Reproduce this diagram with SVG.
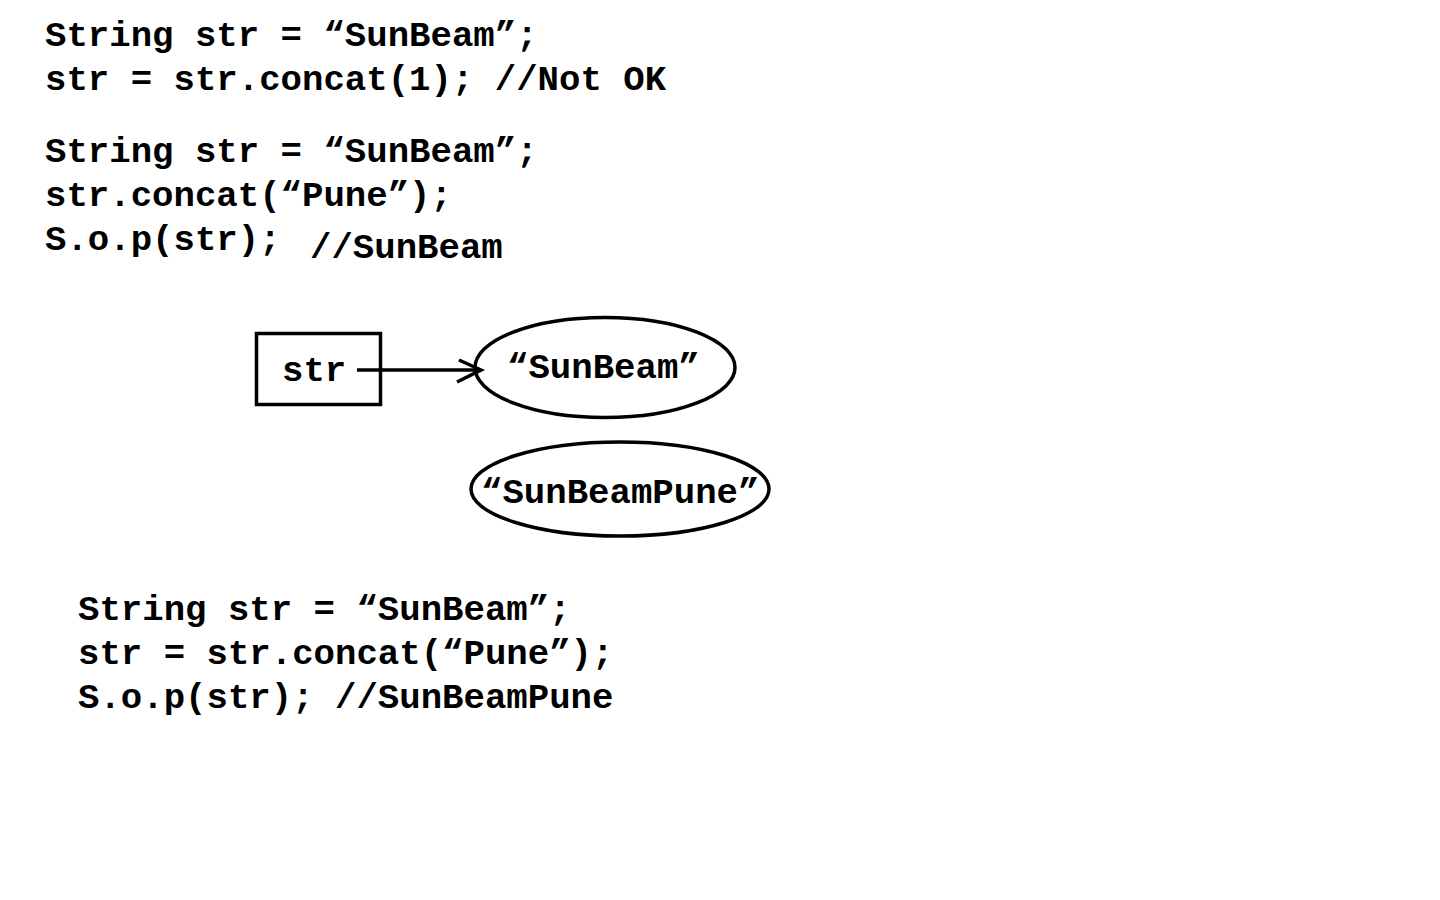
<svg xmlns="http://www.w3.org/2000/svg" width="1440" height="900" viewBox="0 0 1440 900">
<style>
.t{font-family:"Liberation Mono","Courier New",monospace;font-weight:bold;font-size:35.7px;fill:#000}
.s{fill:none;stroke:#000;stroke-width:3.5}
</style>
<rect width="1440" height="900" fill="#fff"/>
<g id="code1">
<text class="t" x="45" y="46">String str = “SunBeam”;</text>
<text class="t" x="45" y="90">str = str.concat(1); //Not OK</text>
</g>
<g id="code2">
<text class="t" x="45" y="162">String str = “SunBeam”;</text>
<text class="t" x="45" y="206">str.concat(“Pune”);</text>
<text class="t" x="45" y="250">S.o.p(str);</text>
<text class="t" x="310" y="258">//SunBeam</text>
</g>
<g id="ref-str">
<rect class="s" x="256.5" y="333.5" width="124" height="71"/>
<text class="t" x="282" y="381">str</text>
</g>
<g id="obj-sunbeam">
<ellipse class="s" cx="605" cy="367.5" rx="130" ry="50"/>
<text class="t" x="507" y="378">“SunBeam”</text>
</g>
<g id="obj-sunbeampune">
<ellipse class="s" cx="620" cy="489" rx="149" ry="47"/>
<text class="t" x="481" y="503">“SunBeamPune”</text>
</g>
<g id="connectors">
<line class="s" x1="357" y1="370" x2="481" y2="370"/>
<polyline class="s" points="459,360 481,370 457,382"/>
</g>
<g id="code3">
<text class="t" x="78" y="620">String str = “SunBeam”;</text>
<text class="t" x="78" y="664">str = str.concat(“Pune”);</text>
<text class="t" x="78" y="708">S.o.p(str); //SunBeamPune</text>
</g>
</svg>
